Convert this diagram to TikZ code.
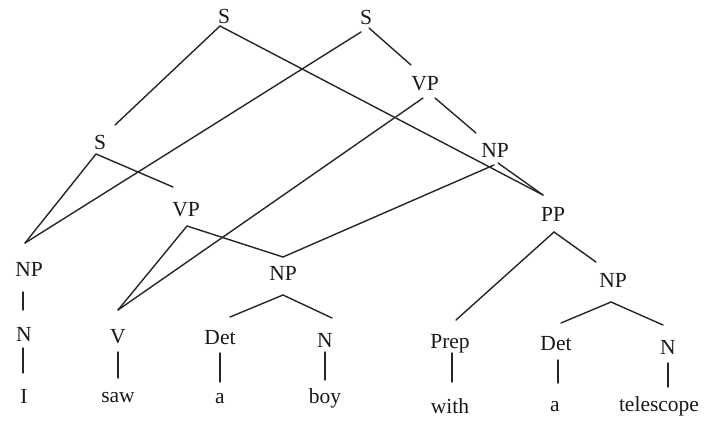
\documentclass[tikz,border=0pt]{standalone}
\usepackage{fontspec}
\setmainfont{Liberation Serif}
\begin{document}
\begin{tikzpicture}[x=1pt,y=-1pt,
  lbl/.style={inner sep=0pt,font=\fontsize{21.5}{25}\selectfont,text=black!90},
  edge/.style={line width=1.4pt,black!85,line cap=round}]
\useasboundingbox[fill=white] (0,0) rectangle (722,421);
% labels
\node[lbl] (S1) at (224,16) {S};
\node[lbl] (S2) at (366,17) {S};
\node[lbl] (S3) at (100,142) {S};
\node[lbl] (VP) at (425,84) {VP};
\node[lbl] (NPu) at (495,150) {NP};
\node[lbl] (VP2) at (186,210) {VP};
\node[lbl] (PP) at (553,214) {PP};
\node[lbl] (NP1) at (29,269) {NP};
\node[lbl] (NPm) at (283,273) {NP};
\node[lbl] (NPr) at (613,280) {NP};
\node[lbl] (N1) at (24,334) {N};
\node[lbl] (V) at (118,337) {V};
\node[lbl] (D1) at (220,338) {Det};
\node[lbl] (N2) at (325,340) {N};
\node[lbl] (Pr) at (450,344) {Prep};
\node[lbl] (D2) at (556,344) {Det};
\node[lbl] (N3) at (668,347) {N};
\node[lbl] (w1) at (24,396) {I};
\node[lbl] (w2) at (118,398) {saw};
\node[lbl] (w3) at (220,399) {a};
\node[lbl] (w4) at (325,398) {boy};
\node[lbl] (w5) at (450,406) {with};
\node[lbl] (w6) at (555,407) {a};
\node[lbl] (w7) at (659,406) {telescope};
% connector end points
\coordinate (S1b) at (220,26);
\coordinate (S3t) at (115,125);
\coordinate (PPt) at (543,195);
\coordinate (S2l) at (361,32);
\coordinate (S2r) at (369,28);
\coordinate (NP1t) at (25,243);
\coordinate (VPt) at (411,65);
\coordinate (S3b) at (96,154);
\coordinate (VP2t) at (173,187);
\coordinate (VPl) at (423,98);
\coordinate (VPr) at (435,98);
\coordinate (Vt) at (118,310);
\coordinate (NPut) at (476,133);
\coordinate (NPul) at (494,165);
\coordinate (NPur) at (498,163);
\coordinate (NPmt) at (283,257);
\coordinate (VP2b) at (187,226);
\coordinate (NPmb) at (283,295);
\coordinate (D1t) at (230,317);
\coordinate (N2t) at (332,318);
\coordinate (PPb) at (554,232);
\coordinate (Prt) at (456,320);
\coordinate (NPrt) at (596,262);
\coordinate (NPrb) at (611,302);
\coordinate (D2t) at (561,323);
\coordinate (N3t) at (663,325);
% vertical edge ends
\coordinate (NP1b) at (23,292); \coordinate (N1t) at (23,310);
\coordinate (N1b) at (23,348);  \coordinate (w1t) at (23,373);
\coordinate (Vb) at (118,352);  \coordinate (w2t) at (118,378);
\coordinate (D1b) at (220,353); \coordinate (w3t) at (220,382);
\coordinate (N2b) at (325,352); \coordinate (w4t) at (325,380);
\coordinate (Prb) at (452,353); \coordinate (w5t) at (452,382);
\coordinate (D2b) at (558,360); \coordinate (w6t) at (558,383);
\coordinate (N3b) at (668,363); \coordinate (w7t) at (668,387);
% tree edges
\draw[edge] (S1b) -- (S3t);
\draw[edge] (S1b) -- (PPt);
\draw[edge] (S2l) -- (NP1t);
\draw[edge] (S2r) -- (VPt);
\draw[edge] (S3b) -- (NP1t);
\draw[edge] (S3b) -- (VP2t);
\draw[edge] (VPl) -- (Vt);
\draw[edge] (VPr) -- (NPut);
\draw[edge] (NPul) -- (NPmt);
\draw[edge] (NPur) -- (PPt);
\draw[edge] (VP2b) -- (Vt);
\draw[edge] (VP2b) -- (NPmt);
\draw[edge] (NPmb) -- (D1t);
\draw[edge] (NPmb) -- (N2t);
\draw[edge] (PPb) -- (Prt);
\draw[edge] (PPb) -- (NPrt);
\draw[edge] (NPrb) -- (D2t);
\draw[edge] (NPrb) -- (N3t);
% vertical edges
\draw[edge] (NP1b) -- (N1t);
\draw[edge] (N1b) -- (w1t);
\draw[edge] (Vb) -- (w2t);
\draw[edge] (D1b) -- (w3t);
\draw[edge] (N2b) -- (w4t);
\draw[edge] (Prb) -- (w5t);
\draw[edge] (D2b) -- (w6t);
\draw[edge] (N3b) -- (w7t);
\end{tikzpicture}
\end{document}
